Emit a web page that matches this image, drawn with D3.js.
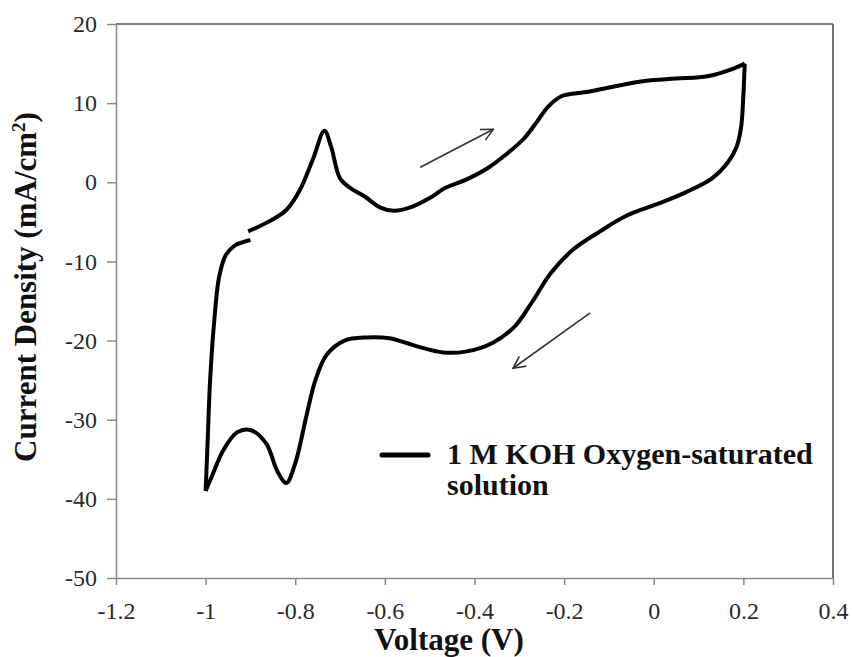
<!DOCTYPE html>
<html>
<head>
<meta charset="utf-8">
<script src="https://cdn.jsdelivr.net/npm/d3@7"></script>
<style>
    body { margin: 0; background: #fff; }
    svg { display: block; }
    svg text { font-family: "Liberation Serif", "Times New Roman", serif; }
</style>
</head>
<body>
<div id="chart"></div>
<script>
// Axis ticks
const xTicks = [-1.2, -1, -0.8, -0.6, -0.4, -0.2, 0, 0.2, 0.4];
const yTicks = [20, 10, 0, -10, -20, -30, -40, -50];

// CV curve, [voltage, current density]
// forward (anodic) sweep from -0.9 V up to 0.2 V
const anodicSweep = [
    [-0.905, -6.2], [-0.86, -5.0], [-0.82, -3.5], [-0.79, -1.0], [-0.76, 3.0],
    [-0.735, 6.5], [-0.72, 4.5], [-0.70, 0.5], [-0.675, -0.8], [-0.645, -1.8],
    [-0.61, -3.2], [-0.58, -3.6], [-0.54, -3.1], [-0.50, -2.0], [-0.465, -0.7],
    [-0.42, 0.3], [-0.37, 1.8], [-0.33, 3.5], [-0.29, 5.5], [-0.26, 7.7],
    [-0.235, 9.6], [-0.205, 10.9], [-0.15, 11.4], [-0.08, 12.2], [-0.02, 12.8],
    [0.05, 13.1], [0.12, 13.4], [0.17, 14.2], [0.203, 15.0]
];
// reverse (cathodic) sweep from 0.2 V down to -1 V
const cathodicSweep = [
    [0.203, 15.0], [0.20, 11], [0.195, 7], [0.185, 4.5], [0.165, 2.5],
    [0.13, 0.5], [0.07, -1.3], [0.01, -2.7], [-0.06, -4.2], [-0.12, -6.2],
    [-0.18, -8.5], [-0.23, -11.5], [-0.27, -15], [-0.31, -18.2], [-0.36, -20.3],
    [-0.42, -21.4], [-0.47, -21.5], [-0.53, -20.7], [-0.59, -19.7], [-0.64, -19.6],
    [-0.69, -20.0], [-0.73, -21.8], [-0.755, -25], [-0.775, -29.5], [-0.80, -35.5],
    [-0.82, -38.0], [-0.84, -36.5], [-0.865, -33.0], [-0.90, -31.3], [-0.93, -31.6],
    [-0.96, -33.8], [-0.985, -37], [-1.0, -39.0]
];
// back up from -1 V to the start
const returnSweep = [
    [-1.0, -39.0], [-0.995, -32], [-0.99, -25], [-0.98, -17], [-0.97, -12],
    [-0.955, -9.2], [-0.935, -8.0], [-0.90, -7.3]
];

// scan direction arrows, [x1, y1, x2, y2] in data units
const scanArrows = [
    [-0.521, 1.9, -0.358, 6.7],
    [-0.142, -16.5, -0.314, -23.5]
];

const legendLabel = ["1 M KOH Oxygen-saturated", "solution"];

const width = 852, height = 657;
const margin = { top: 24, right: 19, bottom: 79, left: 116 };

const svg = d3.select('#chart').append('svg')
    .attr('width', width)
    .attr('height', height);

svg.append('rect').attr('width', width).attr('height', height).attr('fill', '#fff');

const x = d3.scaleLinear().domain([-1.2, 0.4]).range([margin.left, width - margin.right]);
const y = d3.scaleLinear().domain([-50, 20]).range([height - margin.bottom, margin.top]);

// frame: top and right lines
svg.append('line')
    .attr('x1', x(-1.2)).attr('x2', x(0.4))
    .attr('y1', y(20)).attr('y2', y(20))
    .attr('stroke', '#555').attr('stroke-width', 1.5);
svg.append('line')
    .attr('x1', x(0.4)).attr('x2', x(0.4))
    .attr('y1', y(20)).attr('y2', y(-50))
    .attr('stroke', '#444').attr('stroke-width', 1.5);

// plain hyphen for negatives, like the original
const fmt = d => String(d);

// x axis
const xAxis = svg.append('g')
    .attr('transform', `translate(0,${y(-50)})`)
    .call(d3.axisBottom(x).tickValues(xTicks).tickFormat(fmt).tickSize(7).tickPadding(17).tickSizeOuter(0));

// y axis
const yAxis = svg.append('g')
    .attr('transform', `translate(${x(-1.2)},0)`)
    .call(d3.axisLeft(y).tickValues(yTicks).tickFormat(fmt).tickSize(9).tickPadding(10).tickSizeOuter(0));

[xAxis, yAxis].forEach(g => {
    g.attr('font-family', null).attr('font-size', null);
    g.select('.domain').attr('stroke', '#8a8a8a').attr('stroke-width', 1.5);
    g.selectAll('.tick line').attr('stroke', '#8a8a8a').attr('stroke-width', 1.5);
    g.selectAll('.tick text')
        .style('font-size', '24px')
        .attr('fill', '#2a2a2a');
});

// axis titles
svg.append('text')
    .attr('x', 449)
    .attr('y', 650)
    .attr('text-anchor', 'middle')
    .style('font-size', '31px')
    .style('font-weight', 'bold')
    .attr('fill', '#111')
    .text('Voltage (V)');

const yTitle = svg.append('text')
    .attr('transform', 'translate(36,287) rotate(-90)')
    .attr('text-anchor', 'middle')
    .style('font-size', '31px')
    .style('font-weight', 'bold')
    .attr('fill', '#111');
yTitle.append('tspan').text('Current Density (mA/cm');
yTitle.append('tspan').attr('dy', -11).style('font-size', '19px').text('2');
yTitle.append('tspan').attr('dy', 11).text(')');

// the CV loop
const line = d3.line()
    .x(d => x(d[0]))
    .y(d => y(d[1]))
    .curve(d3.curveCatmullRom.alpha(0.5));

[anodicSweep, cathodicSweep, returnSweep].forEach(seg => {
    svg.append('path')
        .datum(seg)
        .attr('d', line)
        .attr('fill', 'none')
        .attr('stroke', '#000')
        .attr('stroke-width', 4)
        .attr('stroke-linejoin', 'round')
        .attr('stroke-linecap', 'butt');
});

// arrow heads
svg.append('defs').append('marker')
    .attr('id', 'head')
    .attr('markerUnits', 'userSpaceOnUse')
    .attr('viewBox', '0 0 14 14')
    .attr('refX', 13).attr('refY', 7)
    .attr('markerWidth', 14).attr('markerHeight', 14)
    .attr('orient', 'auto')
    .append('path')
    .attr('d', 'M1,1 L13,7 L1,13')
    .attr('fill', 'none')
    .attr('stroke', '#333')
    .attr('stroke-width', 1.6);

svg.selectAll('.scan-arrow')
    .data(scanArrows)
    .enter().append('line')
    .attr('class', 'scan-arrow')
    .attr('x1', d => x(d[0])).attr('y1', d => y(d[1]))
    .attr('x2', d => x(d[2])).attr('y2', d => y(d[3]))
    .attr('stroke', '#333')
    .attr('stroke-width', 1.6)
    .attr('marker-end', 'url(#head)');

// legend
svg.append('line')
    .attr('x1', 382).attr('x2', 428)
    .attr('y1', 455).attr('y2', 455)
    .attr('stroke', '#000')
    .attr('stroke-width', 5)
    .attr('stroke-linecap', 'round');

legendLabel.forEach((t, i) => {
    svg.append('text')
        .attr('x', 447)
        .attr('y', 464 + i * 31)
        .style('font-size', '30px')
        .style('font-weight', 'bold')
        .attr('fill', '#111')
        .text(t);
});
</script>
</body>
</html>
